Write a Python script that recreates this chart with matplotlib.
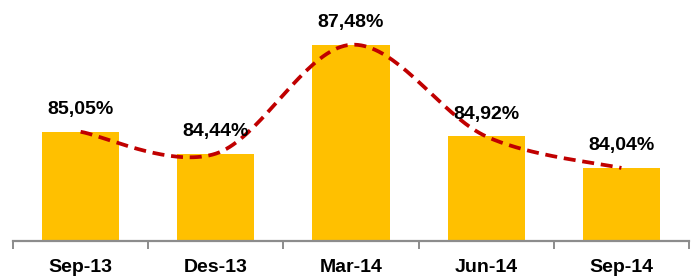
import numpy as np
import matplotlib.pyplot as plt
from matplotlib.ticker import FixedLocator

plt.rcParams['font.family'] = ['Liberation Sans', 'DejaVu Sans']

# data
periods = ['Sep-13', 'Des-13', 'Mar-14', 'Jun-14', 'Sep-14']
ratios = [85.05, 84.44, 87.48, 84.92, 84.04]

BAR_COLOR = '#FFC000'
LINE_COLOR = '#C00000'
AXIS_COLOR = '#8C8C8C'


def smooth_curve(xs, ys, n=40):
    # Excel-style smoothed line: cubic bezier through points, tangents from neighbours
    pts = np.column_stack([xs, ys]).astype(float)
    out = []
    for i in range(len(pts) - 1):
        p0 = pts[i - 1] if i > 0 else pts[i]
        p1 = pts[i]
        p2 = pts[i + 1]
        p3 = pts[i + 2] if i + 2 < len(pts) else pts[i + 1]
        c1 = p1 + (p2 - p0) / 6.0
        c2 = p2 - (p3 - p1) / 6.0
        t = np.linspace(0, 1, n)[:, None]
        seg = ((1 - t) ** 3) * p1 + 3 * ((1 - t) ** 2) * t * c1 + 3 * (1 - t) * t ** 2 * c2 + t ** 3 * p2
        out.append(seg if i == 0 else seg[1:])
    seg = np.vstack(out)
    return seg[:, 0], seg[:, 1]


fig = plt.figure(figsize=(7.0, 2.77), dpi=100)
ax = fig.add_axes([13 / 700, 36 / 277, 676 / 700, 241 / 277])

x = np.arange(len(periods))
ax.bar(x, ratios, width=0.57, color=BAR_COLOR, zorder=2)

sx, sy = smooth_curve(x, ratios)
ax.plot(sx, sy, color=LINE_COLOR, lw=2.7, ls=(0, (3.2, 1.8)), zorder=3)

for xi, v in zip(x, ratios):
    ax.text(xi, v + 0.38, f'{v:.2f}%'.replace('.', ','), ha='center', va='bottom',
            fontsize=14, fontweight='bold', color='black', zorder=4)

ax.set_xlim(-0.5, len(periods) - 0.5)
ax.set_ylim(82, 88.73)

for s in ['top', 'right', 'left']:
    ax.spines[s].set_visible(False)
ax.spines['bottom'].set_color(AXIS_COLOR)
ax.spines['bottom'].set_linewidth(1.6)
ax.set_yticks([])

ax.xaxis.set_major_locator(FixedLocator(np.arange(len(periods) + 1) - 0.5))
ax.xaxis.set_minor_locator(FixedLocator(x))
ax.set_xticklabels([])
ax.set_xticklabels(periods, minor=True)
ax.tick_params(axis='x', which='major', length=6, width=1.4, color=AXIS_COLOR, direction='out')
ax.tick_params(axis='x', which='minor', length=0, pad=13, labelsize=14)
for lbl in ax.get_xticklabels(minor=True):
    lbl.set_fontweight('bold')
    lbl.set_color('black')

fig.savefig('out.png', dpi=100)
